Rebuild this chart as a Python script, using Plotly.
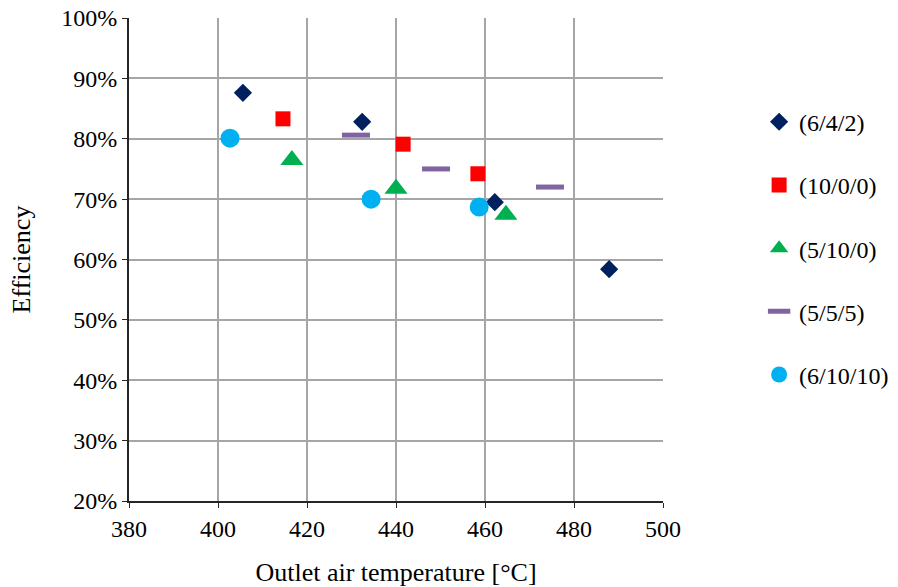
import plotly.graph_objects as go

series_names = ["(6/4/2)", "(10/0/0)", "(5/10/0)", "(5/5/5)", "(6/10/10)"]
temp_642 = [405.6, 432.4, 462.2, 487.9]
eff_642 = [0.876, 0.828, 0.695, 0.584]
temp_1000 = [414.6, 441.6, 458.4]
eff_1000 = [0.833, 0.791, 0.742]
temp_5100 = [416.6, 440.0, 464.7]
eff_5100 = [0.765, 0.717, 0.674]
temp_555 = [431.0, 449.0, 474.6]
eff_555 = [0.806, 0.750, 0.720]
temp_61010 = [402.7, 434.4, 458.7]
eff_61010 = [0.801, 0.700, 0.687]

x_ticks = [380, 400, 420, 440, 460, 480, 500]
y_ticks = [0.2, 0.3, 0.4, 0.5, 0.6, 0.7, 0.8, 0.9, 1.0]

FONT = "Liberation Serif, Times New Roman, serif"

fig = go.Figure()
fig.add_trace(go.Scatter(x=temp_642, y=eff_642, mode="markers", name=series_names[0], legendgroup="a",
                         marker=dict(symbol="diamond", size=14, color="#002060")))
fig.add_trace(go.Scatter(x=temp_1000, y=eff_1000, mode="markers", name=series_names[1], legendgroup="b",
                         marker=dict(symbol="square", size=15, color="#FF0000")))
fig.add_trace(go.Scatter(x=temp_5100, y=eff_5100, mode="markers", name=series_names[2], legendgroup="c",
                         marker=dict(symbol="triangle-up", size=20, color="#00B050")))
fig.add_trace(go.Scatter(x=temp_555, y=eff_555, mode="markers", name=series_names[3], legendgroup="d",
                         marker=dict(symbol="line-ew", size=20, color="#8064A2",
                                     line=dict(width=5, color="#8064A2"))))
fig.add_trace(go.Scatter(x=temp_61010, y=eff_61010, mode="markers", name=series_names[4], legendgroup="e",
                         marker=dict(symbol="circle", size=19, color="#00B0F0")))

fig.update_layout(
    width=898, height=587,
    margin=dict(l=129, r=235, t=18, b=86, autoexpand=False),
    paper_bgcolor="white", plot_bgcolor="white",
    font=dict(family=FONT, size=24, color="black"),
    legend=dict(x=1.18, y=0.831, xanchor="left", yanchor="top",
                font=dict(family=FONT, size=24), tracegroupgap=29,
                bgcolor="rgba(0,0,0,0)"),
    xaxis=dict(range=[380, 500], tickvals=x_ticks, ticktext=[str(v) for v in x_ticks],
               showgrid=True, gridcolor="#A6A6A6", gridwidth=1.5,
               showline=True, linecolor="#262626", linewidth=2,
               ticks="outside", ticklen=5, tickcolor="#262626",
               zeroline=False, automargin=False, tickfont=dict(family=FONT, size=24),
               title=dict(text="Outlet air temperature [°C]", font=dict(family=FONT, size=26), standoff=22)),
    yaxis=dict(range=[0.2, 1.0], tickvals=y_ticks, tickformat=".0%",
               showgrid=True, gridcolor="#A6A6A6", gridwidth=1.5,
               showline=True, linecolor="#262626", linewidth=2,
               ticks="outside", ticklen=5, tickcolor="#262626",
               zeroline=False, automargin=False, tickfont=dict(family=FONT, size=24),
               title=dict(text="Efficiency", font=dict(family=FONT, size=26), standoff=23)),
)

fig.write_html("out.html")
